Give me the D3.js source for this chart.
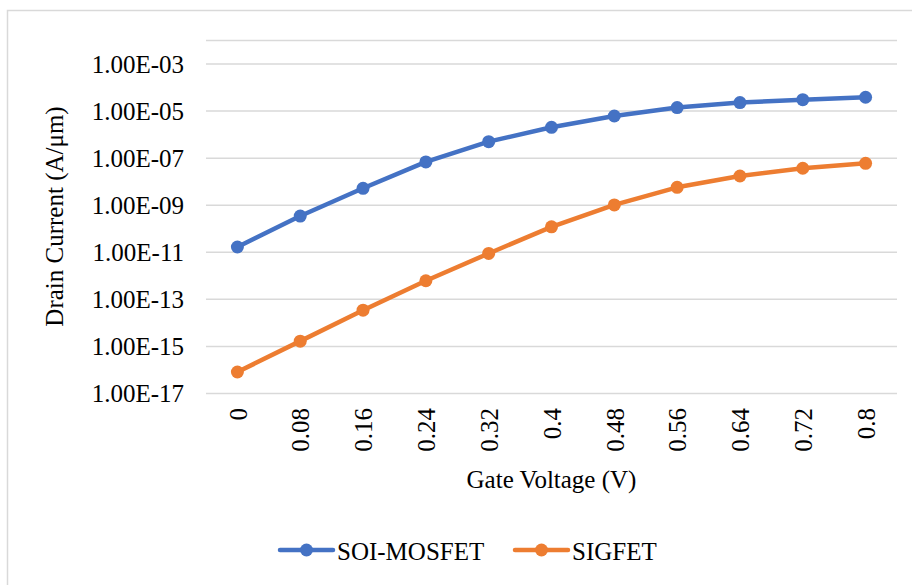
<!DOCTYPE html>
<html>
<head>
<meta charset="utf-8">
<script src="https://cdn.jsdelivr.net/npm/d3@7"></script>
<style>
  body { margin: 0; background: #fff; }
  svg text { font-family: 'Liberation Serif', 'Times New Roman', Times, 'DejaVu Serif', serif !important; fill: #000; }
</style>
</head>
<body>
<script>
// gate voltage categories
const voltages = ['0', '0.08', '0.16', '0.24', '0.32', '0.4', '0.48', '0.56', '0.64', '0.72', '0.8'];
// drain current (A/um)
const soiMosfet = [1.6e-11, 3.3e-10, 5.0e-9, 6.6e-8, 4.8e-7, 1.95e-6, 5.9e-6, 1.35e-5, 2.2e-5, 2.9e-5, 3.7e-5];
const sigfet = [7.8e-17, 1.6e-15, 3.3e-14, 5.9e-13, 8.5e-12, 1.15e-10, 9.8e-10, 5.5e-9, 1.66e-8, 3.55e-8, 5.75e-8];
const seriesNames = ['SOI-MOSFET', 'SIGFET'];
const yTicks = [1e-17, 1e-15, 1e-13, 1e-11, 1e-9, 1e-7, 1e-5, 1e-3];
const yGrid = [1e-17, 1e-15, 1e-13, 1e-11, 1e-9, 1e-7, 1e-5, 1e-3, 1e-2];

const w = 912;
const h = 585;
const margin = { left: 206, right: 15, top: 40, bottom: 192 };
const colors = ['#4472C4', '#ED7D31'];

const svg = d3.select('body')
  .append('svg')
  .attr('width', w)
  .attr('height', h);

// outer chart border (runs off the right and bottom)
svg.append('rect')
  .attr('x', 7.5)
  .attr('y', 10.5)
  .attr('width', w + 20)
  .attr('height', h + 20)
  .attr('fill', 'none')
  .attr('stroke', '#d9d9d9')
  .attr('stroke-width', 1.5);

const xScale = d3.scalePoint()
  .domain(voltages)
  .range([margin.left, w - margin.right])
  .padding(0.5);
const yScale = d3.scaleLog()
  .domain([1e-17, 1e-2])
  .range([h - margin.bottom, margin.top]);

//gridlines
svg.append('g')
  .attr('transform', `translate(${margin.left}, 0)`)
  .call(d3.axisLeft(yScale).tickValues(yGrid).tickSize(-(w - margin.right - margin.left)).tickFormat(''))
  .call((g) => g.select('.domain').remove())
  .call((g) => g.selectAll('line').attr('stroke', '#d9d9d9').attr('stroke-width', 1.5));

//y axis labels
const fmt = (d) => {
  const e = Math.round(-Math.log10(d));
  return '1.00E-' + String(e).padStart(2, '0');
};
svg.append('g')
  .attr('transform', `translate(${margin.left - 22}, 0)`)
  .attr('font-family', null)
  .call(d3.axisLeft(yScale).tickValues(yTicks).tickSize(0).tickFormat(fmt))
  .call((g) => g.select('.domain').remove())
  .call((g) => g.selectAll('text').attr('font-size', 25).attr('x', 0).attr('dy', '0.35em'));

//x axis labels, rotated
svg.append('g')
  .attr('transform', `translate(0, ${h - margin.bottom})`)
  .call(d3.axisBottom(xScale).tickSize(0))
  .call((g) => g.select('.domain').remove())
  .call((g) => g.selectAll('text')
    .attr('font-size', 25)
    .attr('text-anchor', 'end')
    .attr('transform', 'rotate(-90)')
    .attr('x', -15)
    .attr('y', 0)
    .attr('dy', '0.35em'));

//axis titles
svg.append('text')
  .attr('x', (margin.left + w - margin.right) / 2)
  .attr('y', 488)
  .attr('text-anchor', 'middle')
  .attr('font-size', 25)
  .text('Gate Voltage (V)');
svg.append('text')
  .attr('transform', `translate(63, ${(margin.top + h - margin.bottom) / 2}) rotate(-90)`)
  .attr('text-anchor', 'middle')
  .attr('font-size', 25)
  .text('Drain Current (A/μm)');

//lines and markers
const line = d3.line()
  .x((d, i) => xScale(voltages[i]))
  .y((d) => yScale(d));
[soiMosfet, sigfet].forEach((data, k) => {
  svg.append('path')
    .datum(data)
    .attr('d', line)
    .attr('fill', 'none')
    .attr('stroke', colors[k])
    .attr('stroke-width', 4.5)
    .attr('stroke-linejoin', 'round');
  svg.selectAll('.pt' + k)
    .data(data)
    .enter()
    .append('circle')
    .attr('class', 'pt' + k)
    .attr('cx', (d, i) => xScale(voltages[i]))
    .attr('cy', (d) => yScale(d))
    .attr('r', 6.5)
    .attr('fill', colors[k]);
});

//legend
const legX = [280, 515];
const legY = 550;
seriesNames.forEach((name, k) => {
  const g = svg.append('g').attr('transform', `translate(${legX[k]}, ${legY})`);
  g.append('line')
    .attr('x1', 0).attr('x2', 53)
    .attr('stroke', colors[k])
    .attr('stroke-width', 4.5)
    .attr('stroke-linecap', 'round');
  g.append('circle')
    .attr('cx', 26.5)
    .attr('r', 6.5)
    .attr('fill', colors[k]);
  g.append('text')
    .attr('x', 57)
    .attr('y', 10)
    .attr('font-size', 25)
    .text(name);
});
</script>
</body>
</html>
